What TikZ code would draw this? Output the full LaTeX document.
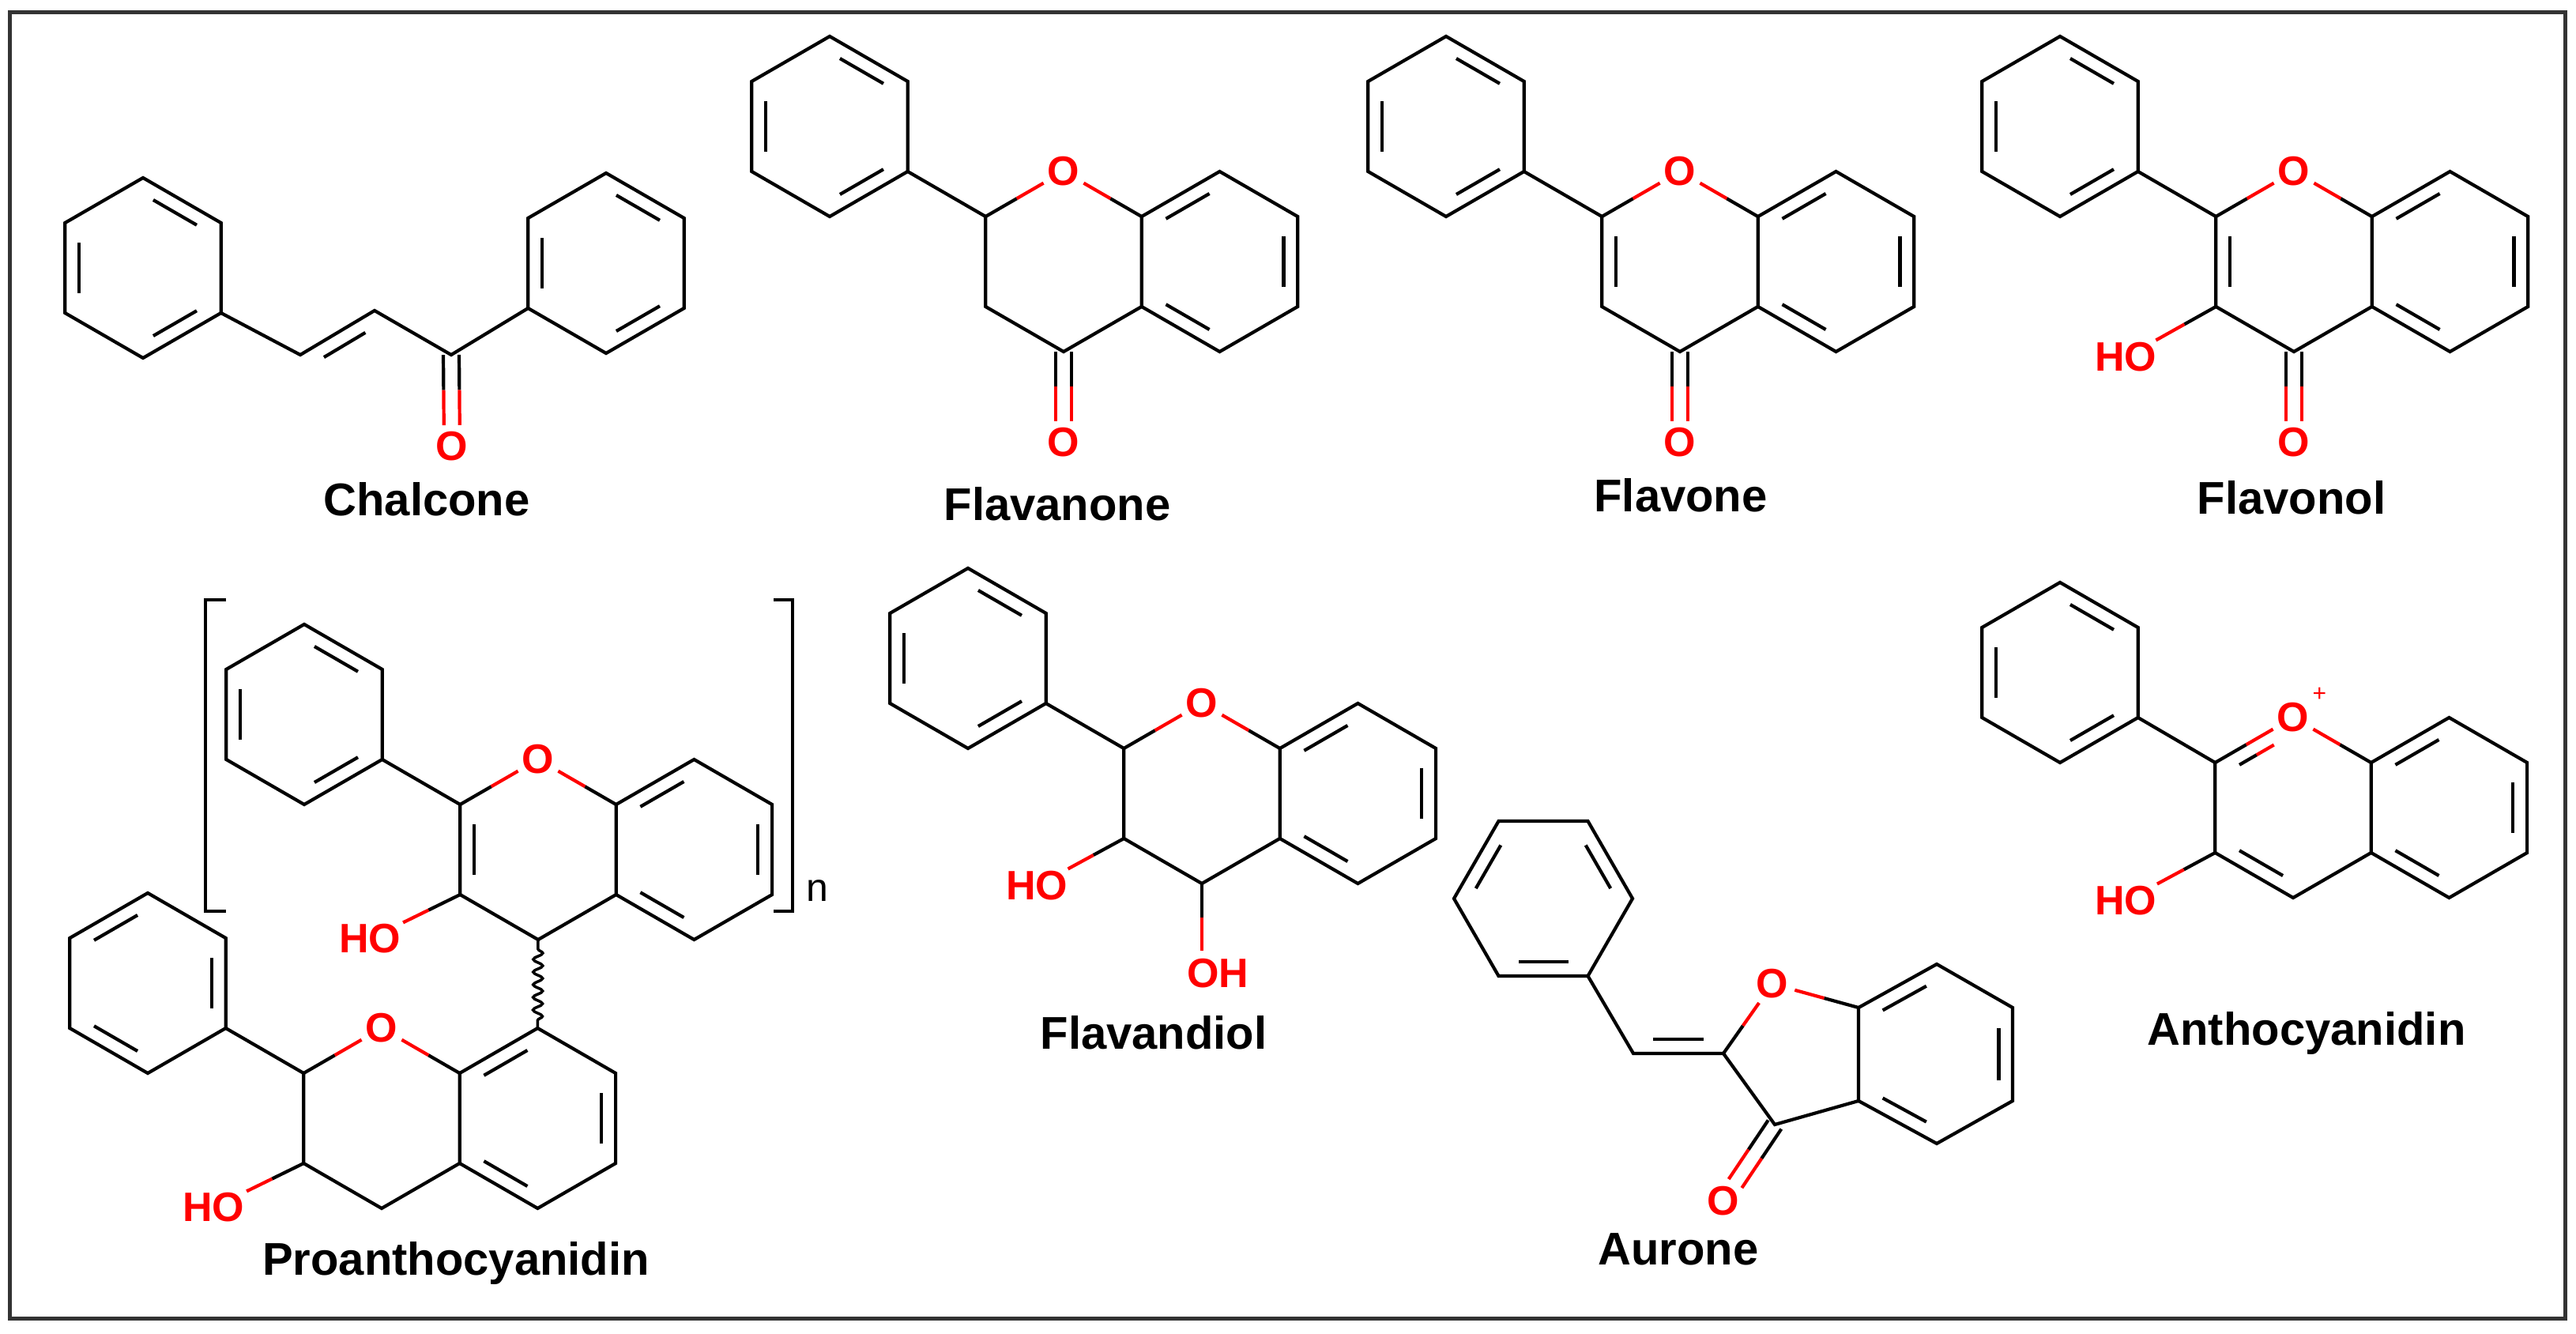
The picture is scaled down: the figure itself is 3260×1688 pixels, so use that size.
\documentclass[tikz,border=0pt]{standalone}
\usepackage{fontspec}
\setmainfont{Liberation Sans}
\usetikzlibrary{calc,decorations.pathmorphing}
\newcommand\capfont{\fontsize{58}{60}\selectfont\bfseries}
\newcommand\atfont{\fontsize{52}{56}\selectfont\bfseries}
\newcommand\hexP[3]{%
\coordinate (#1c) at (#2,#3);
\coordinate (#11) at (#2,#3-114);
\coordinate (#12) at (#2+98.7,#3-57);
\coordinate (#13) at (#2+98.7,#3+57);
\coordinate (#14) at (#2,#3+114);
\coordinate (#15) at (#2-98.7,#3+57);
\coordinate (#16) at (#2-98.7,#3-57);}
\newcommand\ring[1]{\draw (#11)--(#12)--(#13)--(#14)--(#15)--(#16)--cycle;}
\newcommand\ib[3]{\draw ($(#1)!0.16!(#2)!0.18!(#3)$) -- ($(#2)!0.16!(#1)!0.18!(#3)$);}
\newcommand\patA[1]{\ib{#11}{#12}{#1c}\ib{#13}{#14}{#1c}\ib{#15}{#16}{#1c}}
\newcommand\patB[1]{\ib{#16}{#11}{#1c}\ib{#12}{#13}{#1c}\ib{#14}{#15}{#1c}}
\newcommand\hb[3]{\draw (#1) -- ($(#1)!#3!(#2)$); \draw[red] ($(#1)!#3!(#2)$) -- (#2);}
\newcommand\dco[2]{%
\coordinate (tmpE) at ($(#2)!27pt!(#1)$);
\coordinate (dA) at ($(#1)!10pt!90:(tmpE)$);
\coordinate (dB) at ($(tmpE)!10pt!-90:(#1)$);
\coordinate (dC) at ($(#1)!10pt!-90:(tmpE)$);
\coordinate (dD) at ($(tmpE)!10pt!90:(#1)$);
\draw (dA) -- ($(dA)!.5!(dB)$); \draw[red] ($(dA)!.5!(dB)$) -- (dB);
\draw (dC) -- ($(dC)!.5!(dD)$); \draw[red] ($(dC)!.5!(dD)$) -- (dD);}
\begin{document}
\begin{tikzpicture}[x=1pt,y=-1pt,line width=4.2pt,
 atom/.style={text=red,font=\atfont,circle,inner sep=0pt},
 ho/.style={text=red,font=\atfont,inner sep=1pt},
 capt/.style={font=\capfont,inner sep=0pt}]
\useasboundingbox (0,0) rectangle (3260,1688);
\fill[white] (0,0) rectangle (3260,1688);
\draw[line width=5pt,draw=black!80] (12,16) rectangle (3246,1668);
% ---------- Chalcone
\hexP{ca}{181}{339}\ring{ca}\patA{ca}
\hexP{cb}{767}{333}\ring{cb}\patA{cb}
\coordinate (c1) at (380,449); \coordinate (c2) at (474,393); \coordinate (c3) at (571,449);
\coordinate (cside) at (478,507);
\draw (ca3)--(c1)--(c2)--(c3)--(cb5);
\ib{c1}{c2}{cside}
\node[atom] (cO) at (572,565) {O};
\dco{c3}{cO}
\node[capt] (lChal) at (540,632) {Chalcone};
% ---------- Flavanone
\hexP{fa}{1050}{160}\ring{fa}\patA{fa}
\hexP{fp}{1346}{331}\hexP{fb}{1543.5}{331}
\node[atom] (fO) at (fp1) {O};
\draw (fa3)--(fp6);
\hb{fp6}{fO}{0.4} \hb{fp2}{fO}{0.4}
\draw (fp2)--(fp3)--(fp4)--(fp5)--(fp6);
\draw (fb6)--(fb1)--(fb2)--(fb3)--(fb4)--(fb5);
\patB{fb}
\node[atom] (fO2) at (1346,560) {O};
\dco{fp4}{fO2}
\node[capt] (lFlavanone) at (1338,638) {Flavanone};
% ---------- Flavone
\hexP{ga}{1830}{160}\ring{ga}\patA{ga}
\hexP{gp}{2126}{331}\hexP{gb}{2323.5}{331}
\node[atom] (gO) at (gp1) {O};
\draw (ga3)--(gp6);
\hb{gp6}{gO}{0.4} \hb{gp2}{gO}{0.4}
\draw (gp2)--(gp3)--(gp4)--(gp5)--(gp6);
\ib{gp6}{gp5}{gpc}
\draw (gb6)--(gb1)--(gb2)--(gb3)--(gb4)--(gb5);
\patB{gb}
\node[atom] (gO2) at (2126,560) {O};
\dco{gp4}{gO2}
\node[capt] (lFlavone) at (2127,627) {Flavone};
% ---------- Flavonol
\hexP{ha}{2607}{160}\ring{ha}\patA{ha}
\hexP{hp}{2903}{331}\hexP{hr}{3100.5}{331}
\node[atom] (hO) at (hp1) {O};
\draw (ha3)--(hp6);
\hb{hp6}{hO}{0.4} \hb{hp2}{hO}{0.4}
\draw (hp2)--(hp3)--(hp4)--(hp5)--(hp6);
\ib{hp6}{hp5}{hpc}
\draw (hr6)--(hr1)--(hr2)--(hr3)--(hr4)--(hr5);
\patB{hr}
\node[atom] (hO2) at (2903,560) {O};
\dco{hp4}{hO2}
\node[ho] (hHO) at (2690,452) {HO};
\hb{hp5}{hHO}{0.35}
\node[capt] (lFlavonol) at (2900,630) {Flavonol};
% ---------- Proanthocyanidin
\draw[line width=3.5pt] (286,759) -- (260,759) -- (260,1153) -- (286,1153);
\draw[line width=3.5pt] (979,759) -- (1003,759) -- (1003,1153) -- (979,1153);
\node[font=\fontsize{50}{54}\selectfont,inner sep=0pt] (nidx) at (1034,1127) {n};
\hexP{pa}{385}{904}\ring{pa}\patA{pa}
\hexP{pp}{681}{1075}\hexP{pb}{878.4}{1075}
\node[atom] (pO) at (pp1) {O};
\draw (pa3)--(pp6);
\hb{pp6}{pO}{0.4} \hb{pp2}{pO}{0.4}
\draw (pp2)--(pp3)--(pp4)--(pp5)--(pp6);
\ib{pp6}{pp5}{ppc}
\draw (pb6)--(pb1)--(pb2)--(pb3)--(pb4)--(pb5);
\patB{pb}
\node[ho] (pHO) at (468,1188) {HO};
\hb{pp5}{pHO}{0.35}
\hexP{qa}{187}{1244}\ring{qa}\patB{qa}
\hexP{qp}{483}{1415}\hexP{qb}{680.4}{1415}
\node[atom] (qO) at (qp1) {O};
\draw (qa3)--(qp6);
\hb{qp6}{qO}{0.4} \hb{qp2}{qO}{0.4}
\draw (qp2)--(qp3)--(qp4)--(qp5)--(qp6);
\draw (qb6)--(qb1)--(qb2)--(qb3)--(qb4)--(qb5);
\patB{qb}
\node[ho] (qHO) at (270,1528) {HO};
\hb{qp5}{qHO}{0.35}
\draw[line width=3.5pt,decorate,decoration={snake,segment length=16pt,amplitude=6pt,pre length=12pt,post length=6pt}] (pp4) -- (qb1);
\node[capt] (lProanth) at (577,1598) {Proanthocyanidin};
% ---------- Flavandiol
\hexP{da}{1225}{833}\ring{da}\patA{da}
\hexP{dp}{1521}{1004}\hexP{db}{1718.4}{1004}
\node[atom] (dO) at (dp1) {O};
\draw (da3)--(dp6);
\hb{dp6}{dO}{0.4} \hb{dp2}{dO}{0.4}
\draw (dp2)--(dp3)--(dp4)--(dp5)--(dp6);
\draw (db6)--(db1)--(db2)--(db3)--(db4)--(db5);
\patB{db}
\node[ho] (dHO) at (1312,1121) {HO};
\hb{dp5}{dHO}{0.35}
\node[ho] (dOH) at (1541,1232) {OH};
\coordinate (dOHt) at (1521,1203);
\draw (dp4) -- ($(dp4)!.5!(dOHt)$); \draw[red] ($(dp4)!.5!(dOHt)$) -- (dOHt);
\node[capt] (lFlavandiol) at (1460,1307) {Flavandiol};
% ---------- Aurone
\coordinate (auc) at (1953,1137);
\coordinate (au1) at (1896.5,1039); \coordinate (au2) at (2009.5,1039);
\coordinate (au3) at (2066,1137); \coordinate (au4) at (2009.5,1235);
\coordinate (au5) at (1896.5,1235); \coordinate (au6) at (1840,1137);
\ring{au}
\ib{au6}{au1}{auc}\ib{au2}{au3}{auc}\ib{au4}{au5}{auc}
\coordinate (aCH) at (2067,1333); \coordinate (aC2) at (2181,1333);
\coordinate (aup) at (2124,1233);
\coordinate (aC7a) at (2352,1275); \coordinate (aC3a) at (2352,1393);
\coordinate (aC3) at (2246,1423);
\coordinate (aC7) at (2451,1220); \coordinate (aC6) at (2547,1275);
\coordinate (aC5) at (2547,1393); \coordinate (aC4) at (2451,1447);
\coordinate (abc) at (2450,1334);
\draw (au4)--(aCH)--(aC2);
\ib{aCH}{aC2}{aup}
\node[atom] (aO) at (2243,1245) {O};
\hb{aC2}{aO}{0.4} \hb{aC7a}{aO}{0.4}
\draw (aC2)--(aC3)--(aC3a)--(aC7a);
\draw (aC7a)--(aC7)--(aC6)--(aC5)--(aC4)--(aC3a);
\ib{aC7a}{aC7}{abc}\ib{aC6}{aC5}{abc}\ib{aC4}{aC3a}{abc}
\node[atom] (aO2) at (2181,1520) {O};
\dco{aC3}{aO2}
\node[capt] (lAurone) at (2124,1581) {Aurone};
% ---------- Anthocyanidin
\hexP{ea}{2607}{851}\ring{ea}\patA{ea}
\hexP{ep}{2902}{1022}\hexP{eb}{3099.4}{1022}
\node[atom,label={[text=red,font=\fontsize{30}{30}\selectfont,inner sep=0pt]40:+}] (eO) at (ep1) {O};
\draw (ea3)--(ep6);
\hb{ep6}{eO}{0.4} \hb{ep2}{eO}{0.4}
\coordinate (eI1) at ($(ep6)!0.16!(ep1)!0.18!(epc)$);
\coordinate (eI2) at ($(ep1)!0.3!(ep6)!0.18!(epc)$);
\draw (eI1)--($(eI1)!.5!(eI2)$); \draw[red] ($(eI1)!.5!(eI2)$)--(eI2);
\draw (ep2)--(ep3)--(ep4)--(ep5)--(ep6);
\ib{ep5}{ep4}{epc}
\draw (eb6)--(eb1)--(eb2)--(eb3)--(eb4)--(eb5);
\patB{eb}
\node[ho] (eHO) at (2690,1140) {HO};
\hb{ep5}{eHO}{0.35}
\node[capt] (lAntho) at (2919,1307) {Anthocyanidin};
\end{tikzpicture}
\end{document}
